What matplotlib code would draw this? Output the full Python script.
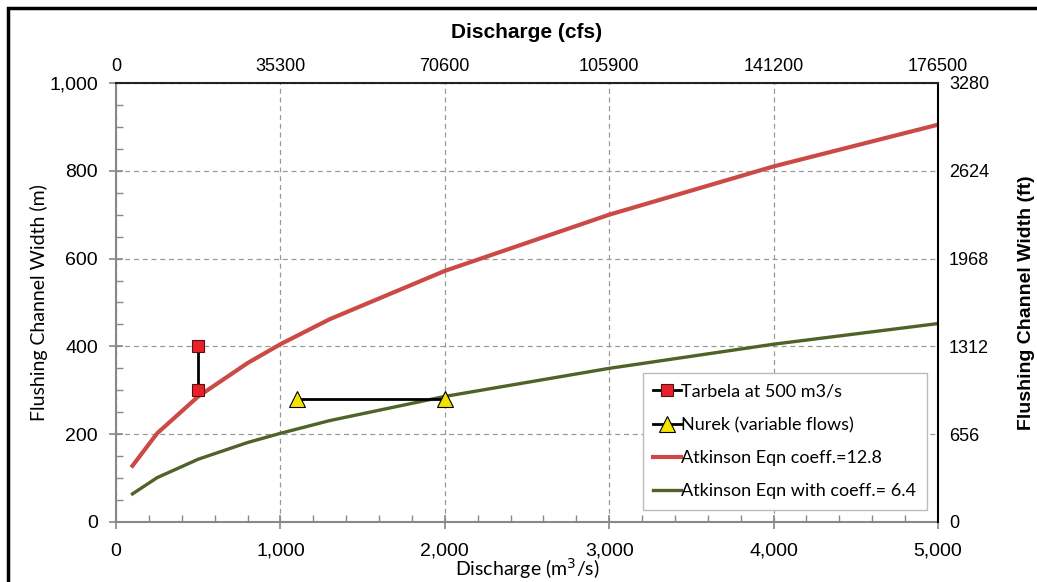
import matplotlib.pyplot as plt
from matplotlib.patches import Rectangle
from matplotlib.ticker import MultipleLocator, FuncFormatter
import numpy as np

# discharge (m3/s) and flushing channel width (m)
discharge = [100, 250, 500, 800, 1000, 1300, 2000, 3000, 4000, 5000]
width_128 = [128, 202, 286, 362, 405, 462, 572, 700, 810, 905]
width_64 = [64, 101, 143, 181, 202, 231, 286, 350, 405, 452]

tarbela_q = [500, 500]
tarbela_w = [300, 400]
nurek_q = [1100, 2000]
nurek_w = [280, 280]

cfs_ticks = [0, 35300, 70600, 105900, 141200, 176500]
ft_ticks = [0, 656, 1312, 1968, 2624, 3280]

fig = plt.figure(figsize=(10.37, 5.82), dpi=100)
ax = fig.add_axes([0.1119, 0.1031, 0.7926, 0.7543])

ax.plot(tarbela_q, tarbela_w, color='black', lw=2, marker='s', ms=8,
        mfc='#E8202A', mec='#5a1010', mew=0.8, label='Tarbela at 500 m3/s', zorder=5)
ax.plot(nurek_q, nurek_w, color='black', lw=2, marker='^', ms=11,
        mfc='#F2E400', mec='black', mew=0.8, label='Nurek (variable flows)', zorder=5)
ax.plot(discharge, width_128, color='#CC4A45', lw=3, label='Atkinson Eqn coeff.=12.8', zorder=4)
ax.plot(discharge, width_64, color='#4F6228', lw=2.4, label='Atkinson Eqn with coeff.= 6.4', zorder=4)

ax.set_xlim(0, 5000)
ax.set_ylim(0, 1000)
ax.xaxis.set_major_locator(MultipleLocator(1000))
ax.xaxis.set_minor_locator(MultipleLocator(200))
ax.yaxis.set_major_locator(MultipleLocator(200))
ax.yaxis.set_minor_locator(MultipleLocator(50))
fmt = FuncFormatter(lambda v, p: f'{int(v):,}')
ax.xaxis.set_major_formatter(fmt)
ax.yaxis.set_major_formatter(fmt)
ax.grid(True, which='major', color='#999999', ls=(0, (4, 3)), lw=0.9)
ax.tick_params(which='major', direction='inout', length=10, color='#888888', width=1.2,
               labelsize=14, labelfontfamily='Liberation Sans')
ax.tick_params(which='minor', direction='in', length=5, color='#888888', width=1)
ax.tick_params(axis='x', which='major', pad=10)
ax.tick_params(axis='y', which='major', pad=8)
for s in ['left', 'bottom']:
    ax.spines[s].set_color('#888888')
    ax.spines[s].set_linewidth(1.5)
ax.spines['top'].set_visible(False)
ax.spines['right'].set_visible(False)

ax.set_ylabel('Flushing Channel Width (m)', fontsize=14, family='Lato')
ax.yaxis.set_label_coords(-0.083, 0.5)
ax.set_xlabel('Discharge (m$^3$/s)', fontsize=14, family='Lato', labelpad=-3)

ax2 = ax.twinx()
ax2.set_ylim(0, 3280)
ax2.set_yticks(ft_ticks)
ax2.tick_params(length=0, labelsize=13, pad=8, labelfontfamily='Liberation Sans')
ax2.spines['right'].set_linewidth(1.5)
ax2.spines['right'].set_color('black')
for s in ['left', 'bottom', 'top']:
    ax2.spines[s].set_visible(False)
ax2.set_ylabel('Flushing Channel Width (ft)', fontsize=14, fontweight='bold',
               family='Liberation Sans', labelpad=21)

ax3 = ax.twiny()
ax3.set_xlim(0, 176500)
ax3.set_xticks(cfs_ticks)
ax3.tick_params(length=0, labelsize=13, pad=6, labelfontfamily='Liberation Sans')
ax3.spines['top'].set_linewidth(1.5)
ax3.spines['top'].set_color('#222222')
for s in ['left', 'bottom', 'right']:
    ax3.spines[s].set_visible(False)
ax3.set_xlabel('Discharge (cfs)', fontsize=15, fontweight='bold',
               family='Liberation Sans', labelpad=14)

leg = ax.legend(loc='lower right', bbox_to_anchor=(0.987, 0.027), borderaxespad=0,
                fancybox=False, edgecolor='#bbbbbb', framealpha=1,
                prop={'family': 'Lato', 'size': 13},
                handlelength=1.5, handletextpad=0.05, labelspacing=0.95, borderpad=0.6)
leg.set_zorder(10)

fig.add_artist(Rectangle((0.0077, -0.2), 1.2, 0.986 + 0.2, transform=fig.transFigure,
                         fill=False, edgecolor='black', lw=2.5))

fig.savefig('out.png', dpi=100)
